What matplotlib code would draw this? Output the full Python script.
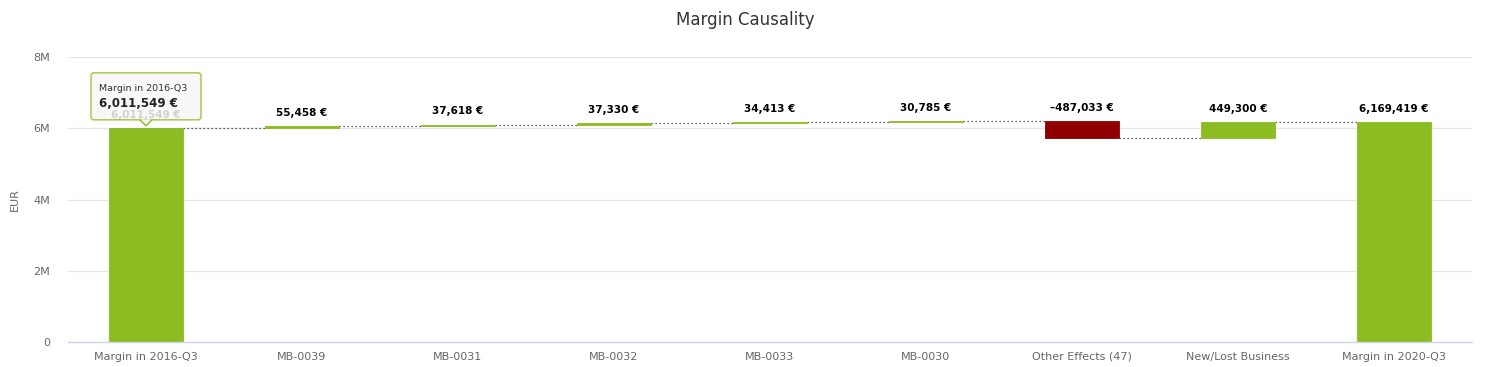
import matplotlib
matplotlib.use("Agg")
import matplotlib.pyplot as plt
from matplotlib import transforms
from matplotlib.patches import FancyBboxPatch, Polygon
import numpy as np

categories = ["Margin in 2016-Q3", "MB-0039", "MB-0031", "MB-0032", "MB-0033",
              "MB-0030", "Other Effects (47)", "New/Lost Business", "Margin in 2020-Q3"]
values = [6011549, 55458, 37618, 37330, 34413, 30785, -487033, 449300, 6169419]
is_total = [True, False, False, False, False, False, False, False, True]
y_ticks = [0, 2e6, 4e6, 6e6, 8e6]
y_tick_labels = ["0", "2M", "4M", "6M", "8M"]

GREEN = "#8bbc21"
RED = "#910000"

fig = plt.figure(figsize=(14.91, 3.67), dpi=100)
ax = fig.add_axes([68 / 1491, 1 - 342 / 367, (1472 - 68) / 1491, (342 - 57) / 367])

x = np.arange(len(categories))
bw = 0.48
bottoms, tops, colors = [], [], []
cum = 0
for v, tot in zip(values, is_total):
    if tot:
        b, t = 0, v
        cum = v
    else:
        b, t = cum, cum + v
        cum = cum + v
    bottoms.append(min(b, t))
    tops.append(max(b, t))
    colors.append(GREEN if v >= 0 else RED)

heights = [t - b for b, t in zip(bottoms, tops)]
ax.bar(x, heights, bottom=bottoms, width=bw, color=colors, edgecolor=colors,
       linewidth=0.6, zorder=3)

# connectors
cum = 0
levels = []
for v, tot in zip(values, is_total):
    cum = v if tot else cum + v
    levels.append(cum)
for i in range(len(values) - 1):
    ax.plot([x[i] + bw / 2, x[i + 1] - bw / 2], [levels[i], levels[i]],
            color="#333333", linestyle=(0, (1, 2.2)), linewidth=0.9, zorder=2)

# labels
for i, v in enumerate(values):
    txt = ("\u2013" if v < 0 else "") + f"{abs(v):,} \u20ac"
    ax.annotate(txt, (x[i], tops[i]), xytext=(0, 6), textcoords="offset points",
                ha="center", va="bottom", fontsize=7.5, fontweight="bold",
                color="black", zorder=5)

ax.set_xlim(-0.5, len(categories) - 0.5)
ax.set_ylim(0, 8e6)
ax.set_yticks(y_ticks)
ax.set_yticklabels(y_tick_labels)
ax.set_xticks(x)
ax.set_xticklabels(categories)
ax.tick_params(axis="both", length=0, labelsize=8, colors="#666666")
ax.tick_params(axis="y", pad=13)
ax.tick_params(axis="x", pad=7)
ax.grid(axis="y", color="#e6e6e6", linewidth=1, zorder=0)
ax.set_axisbelow(True)
for s in ["top", "right", "left"]:
    ax.spines[s].set_visible(False)
ax.spines["bottom"].set_color("#ccd6eb")
ax.spines["bottom"].set_linewidth(1)
ax.spines["bottom"].set_zorder(4)
ax.set_ylabel("EUR", fontsize=8, color="#666666")
ax.yaxis.set_label_coords((20 - 68) / 1404, 0.5)

fig.text(0.5, 1 - 20 / 367, "Margin Causality", ha="center", va="center",
         fontsize=12, color="#333333")

# tooltip on first bar
anchor = transforms.ScaledTranslation(x[0], tops[0], ax.transData)
tr = fig.dpi_scale_trans + anchor
box = FancyBboxPatch((-0.55, 0.08), 1.10, 0.47,
                     boxstyle="round,pad=0,rounding_size=0.03",
                     transform=tr, facecolor="#f7f7f7", edgecolor=GREEN,
                     linewidth=1, alpha=0.85, zorder=10, clip_on=False)
fig.add_artist(box)
tri = Polygon([(-0.06, 0.085), (0.06, 0.085), (0.0, 0.02)], closed=True,
              transform=tr, facecolor="#f7f7f7", edgecolor="none",
              alpha=0.95, zorder=11, clip_on=False)
fig.add_artist(tri)
tri_edge = plt.Line2D([-0.06, 0.0, 0.06], [0.08, 0.02, 0.08], transform=tr,
                      color=GREEN, linewidth=1, zorder=11)
fig.add_artist(tri_edge)
fig.text(-0.47, 0.39, categories[0], transform=tr, fontsize=6.8, color="#333333",
         ha="left", va="center", zorder=12)
fig.text(-0.47, 0.245, f"{values[0]:,} \u20ac", transform=tr, fontsize=8.5,
         fontweight="bold", color="#222222", ha="left", va="center", zorder=12)

fig.savefig("out.png", dpi=100)
